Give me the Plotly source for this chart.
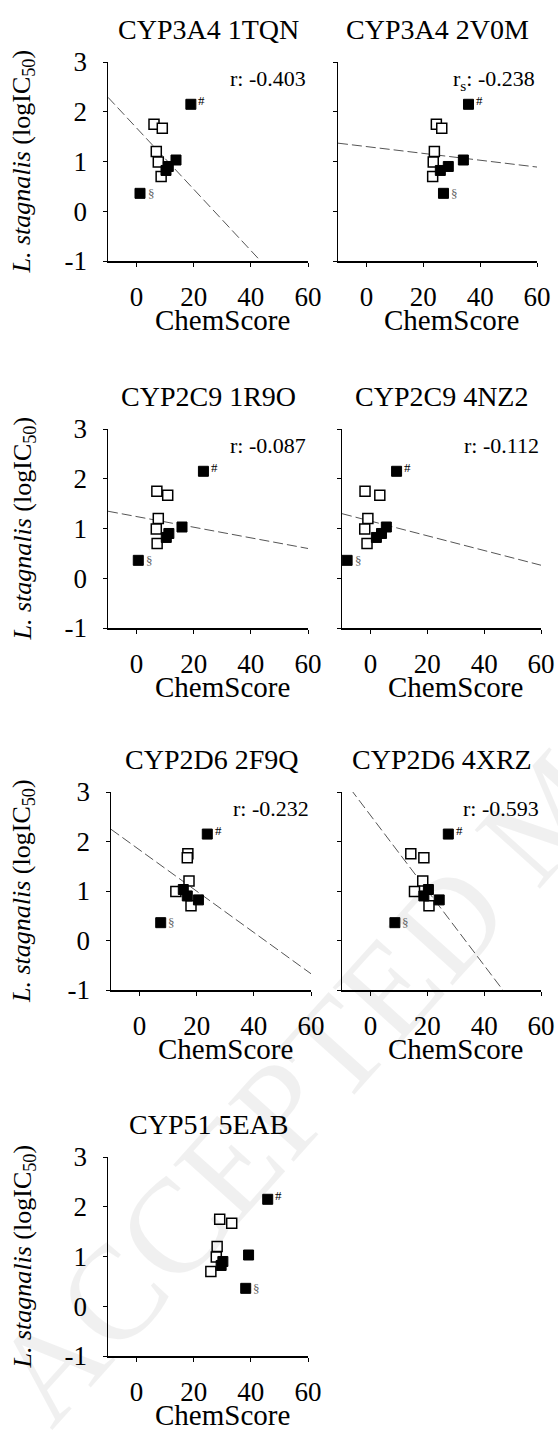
import plotly.graph_objects as go

# ---------------- data ----------------
panel_titles = ["CYP3A4 1TQN", "CYP3A4 2V0M", "CYP2C9 1R9O", "CYP2C9 4NZ2",
                "CYP2D6 2F9Q", "CYP2D6 4XRZ", "CYP51 5EAB"]
corr_labels = ["r: -0.403", "r<sub>s</sub>: -0.238", "r: -0.087", "r: -0.112",
               "r: -0.232", "r: -0.593", None]

# L. stagnalis logIC50 (same compounds in every panel)
filled_y = [2.15, 1.03, 0.90, 0.82, 0.36]   # first = '#', last = '§'
open_y = [1.75, 1.67, 1.20, 0.99, 0.70]

# ChemScore per panel
filled_x = [
    [19.0, 13.8, 11.1, 10.3, 1.2],
    [35.9, 34.1, 28.8, 26.0, 27.1],
    [23.4, 15.9, 11.3, 10.4, 0.6],
    [9.2, 5.6, 3.9, 2.1, -8.2],
    [23.7, 15.3, 16.7, 20.6, 7.4],
    [27.4, 20.4, 18.8, 24.2, 8.6],
    [45.9, 39.2, 30.2, 29.6, 38.2],
]
open_x = [
    [6.1, 9.0, 6.9, 7.6, 8.6],
    [24.6, 26.5, 23.9, 23.5, 23.3],
    [7.1, 10.9, 7.6, 6.9, 7.2],
    [-1.9, 3.3, -0.9, -2.0, -1.2],
    [16.9, 16.7, 17.3, 12.7, 18.0],
    [14.2, 18.8, 18.4, 15.5, 20.6],
    [29.1, 33.3, 28.2, 27.9, 26.0],
]
# trend lines: slope, intercept (None = no line)
line_slope = [-0.0616, -0.00686, -0.0107, -0.0148, -0.0417, -0.0758, None]
line_intercept = [1.674, 1.30, 1.24, 1.15, 1.83, 2.53, None]

x_range = [-10, 60]
x_ticks = [0, 20, 40, 60]
y_ticks = [-1, 0, 1, 2, 3]
y_tick_labels = ["-1", "0", "1", "2", "3"]
x_title = "ChemScore"
y_title = "<i>L. stagnalis</i> (logIC<sub>50</sub>)"
watermark = "ACCEPTED MANUSCRIPT"

# ---------------- layout geometry (pixels) ----------------
W, H = 558, 1431
col_px = [[(108, 308), (338, 537)],
          [(108, 308), (342, 541)],
          [(111, 311), (342, 541)],
          [(108, 308), None]]
row_px = [(62, 261), (429, 628), (792, 990), (1157, 1356)]

FONT = "Liberation Serif, Times New Roman, serif"
fig = go.Figure()
layout = dict(width=W, height=H, margin=dict(l=0, r=0, t=0, b=0, autoexpand=False),
              paper_bgcolor="white", plot_bgcolor="white", showlegend=False,
              template="none",
              font=dict(family=FONT, color="black"))
annotations = []

# faint publisher watermark
annotations.append(dict(xref="paper", yref="paper", x=550 / W, y=1 - 810 / H,
                        xanchor="center", yanchor="middle", textangle=-48,
                        text=watermark, showarrow=False,
                        font=dict(size=134, family=FONT, color="rgba(0,0,0,0.06)")))

for i in range(7):
    r, c = divmod(i, 2)
    n = i + 1
    xs = "" if n == 1 else str(n)
    x0, x1 = col_px[r][c]
    y0, y1 = row_px[r]
    layout["xaxis" + xs] = dict(
        domain=[x0 / W, x1 / W], anchor="y" + xs, range=x_range, automargin=False,
        tickvals=x_ticks, showline=True, linecolor="black", linewidth=1.5,
        ticks="outside", ticklen=4, tickwidth=1, tickcolor="black",
        showgrid=False, zeroline=False, ticklabelstandoff=7,
        tickfont=dict(size=27, family=FONT, color="black"))
    layout["yaxis" + xs] = dict(
        domain=[1 - y1 / H, 1 - y0 / H], anchor="x" + xs, range=[-1, 3], automargin=False,
        tickvals=y_ticks, ticktext=y_tick_labels, showticklabels=(c == 0),
        showline=True, linecolor="black", linewidth=1.5,
        ticks="outside", ticklen=4, tickwidth=1, tickcolor="black",
        showgrid=False, zeroline=False, ticklabelstandoff=10,
        tickfont=dict(size=27, family=FONT, color="black"))

    if line_slope[i] is not None:
        lx = [x_range[0], x_range[1]]
        ly = [line_intercept[i] + line_slope[i] * v for v in lx]
        fig.add_trace(go.Scatter(x=lx, y=ly, mode="lines", xaxis="x" + xs, yaxis="y" + xs,
                                 line=dict(color="#555555", width=1, dash="10px,4px"),
                                 hoverinfo="skip"))
    fig.add_trace(go.Scatter(x=open_x[i], y=open_y, mode="markers", xaxis="x" + xs, yaxis="y" + xs,
                             marker=dict(symbol="square", size=10, color="white",
                                         line=dict(color="black", width=1.5)),
                             cliponaxis=False))
    fig.add_trace(go.Scatter(x=filled_x[i], y=filled_y, mode="markers", xaxis="x" + xs, yaxis="y" + xs,
                             marker=dict(symbol="square", size=10, color="black",
                                         line=dict(color="black", width=1)),
                             cliponaxis=False))
    # markers '#' and '§'
    annotations.append(dict(xref="x" + xs, yref="y" + xs, x=filled_x[i][0], y=filled_y[0],
                            text="#", showarrow=False, xshift=11, yshift=4,
                            font=dict(size=13, family=FONT, color="black")))
    annotations.append(dict(xref="x" + xs, yref="y" + xs, x=filled_x[i][-1], y=filled_y[-1],
                            text="§", showarrow=False, xshift=11, yshift=0,
                            font=dict(size=13, family=FONT, color="#666666")))
    # panel title
    annotations.append(dict(xref="x" + xs + " domain", yref="y" + xs + " domain", x=0.5, y=1,
                            xanchor="center", yanchor="bottom", yshift=15,
                            text=panel_titles[i], showarrow=False,
                            font=dict(size=28, family=FONT, color="black")))
    # correlation
    if corr_labels[i]:
        annotations.append(dict(xref="x" + xs + " domain", yref="y" + xs + " domain", x=1, y=1,
                                xanchor="right", yanchor="top", yshift=-2,
                                text=corr_labels[i], showarrow=False,
                                font=dict(size=22, family=FONT, color="black")))
    # x title
    annotations.append(dict(xref="x" + xs, yref="y" + xs + " domain", x=30, y=0,
                            xanchor="center", yanchor="top", yshift=-41,
                            text=x_title, showarrow=False,
                            font=dict(size=29, family=FONT, color="black")))
    # y title
    if c == 0:
        annotations.append(dict(xref="paper", yref="y" + xs + " domain", x=23 / W, y=0.5,
                                xanchor="center", yanchor="middle", textangle=-90,
                                text=y_title, showarrow=False,
                                font=dict(size=26, family=FONT, color="black")))

layout["annotations"] = annotations
fig.update_layout(**layout)
fig.write_html("out.html", config={"displayModeBar": False, "staticPlot": True},
               post_script="document.body.style.margin='0';document.body.style.overflow='hidden';")
